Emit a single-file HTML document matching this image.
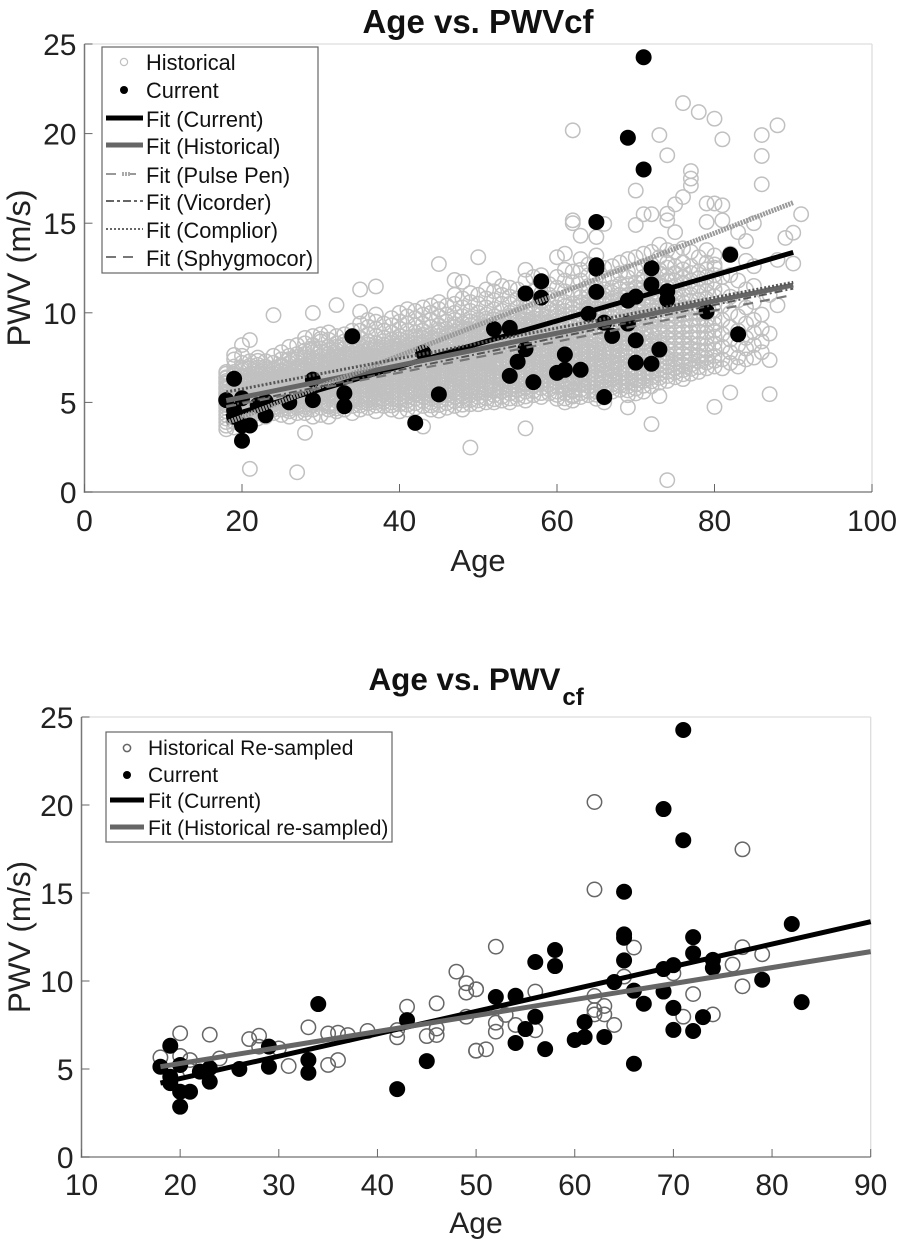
<!DOCTYPE html>
<html lang="en">
<head>
<meta charset="utf-8">
<title>Age vs. PWV charts</title>
<style>
html,body{margin:0;padding:0;background:#fff}
svg{display:block;font-family:"Liberation Sans",Arial,sans-serif;filter:blur(0.35px)}
</style>
</head>
<body>
<svg id="figure" width="902" height="1244" viewBox="0 0 902 1244" xmlns="http://www.w3.org/2000/svg">
  <rect width="902" height="1244" fill="#fff"/>
  <g id="top-chart"></g>
  <g id="bottom-chart"></g>

  <text x="478" y="33" text-anchor="middle" font-size="33" font-weight="bold" fill="#111">Age vs. PWVcf</text>
  <text transform="translate(30,268) rotate(-90)" text-anchor="middle" font-size="32.5" fill="#222">PWV (m/s)</text>
  <text x="478" y="571" text-anchor="middle" font-size="31" fill="#222">Age</text>

  <text x="368.5" y="690" font-size="31.4" font-weight="bold" fill="#111">Age vs. PWV<tspan dx="2" dy="15" font-size="24">cf</tspan></text>
  <text transform="translate(30,937) rotate(-90)" text-anchor="middle" font-size="31.5" fill="#222">PWV (m/s)</text>
  <text x="476" y="1233" text-anchor="middle" font-size="30" fill="#222">Age</text>

  <g font-size="21.8" fill="#111">
    <rect x="102" y="47" width="216" height="226" fill="#fff" stroke="#666" stroke-width="1.2"/>
    <circle cx="124" cy="62" r="3.6" fill="#fff" stroke="#c0c0c0" stroke-width="1.2"/>
    <text x="146" y="70">Historical</text>
    <circle cx="124" cy="90" r="4" fill="#000"/>
    <text x="146" y="98">Current</text>
    <line x1="106" x2="143" y1="118" y2="118" stroke="#000" stroke-width="5"/>
    <text x="146" y="127">Fit (Current)</text>
    <line x1="106" x2="143" y1="145" y2="145" stroke="#666" stroke-width="5"/>
    <text x="146" y="154">Fit (Historical)</text>
    <line x1="106" x2="136" y1="174" y2="174" stroke="#999" stroke-width="2" stroke-dasharray="10 14 6"/>
    <line x1="122" x2="130" y1="174" y2="174" stroke="#aaa" stroke-width="4" stroke-dasharray="2 1"/>
    <text x="146" y="183">Fit (Pulse Pen)</text>
    <line x1="106" x2="143" y1="201" y2="201" stroke="#666" stroke-width="2" stroke-dasharray="8 3 3 3"/>
    <text x="146" y="210">Fit (Vicorder)</text>
    <line x1="106" x2="143" y1="229" y2="229" stroke="#666" stroke-width="2" stroke-dasharray="2 2"/>
    <text x="146" y="238">Fit (Complior)</text>
    <line x1="106" x2="136" y1="257" y2="257" stroke="#777" stroke-width="2" stroke-dasharray="10 7"/>
    <text x="146" y="266">Fit (Sphygmocor)</text>
  </g>

  <g font-size="21" fill="#111">
    <rect x="106" y="732" width="286" height="110" fill="#fff" stroke="#666" stroke-width="1.2"/>
    <circle cx="127" cy="748" r="3.6" fill="#fff" stroke="#666" stroke-width="1.5"/>
    <text x="148" y="755">Historical Re-sampled</text>
    <circle cx="127" cy="775" r="4" fill="#000"/>
    <text x="148" y="782">Current</text>
    <line x1="110" x2="144" y1="800" y2="800" stroke="#000" stroke-width="5"/>
    <text x="148" y="808">Fit (Current)</text>
    <line x1="110" x2="144" y1="827" y2="827" stroke="#666" stroke-width="5"/>
    <text x="148" y="835">Fit (Historical re-sampled)</text>
  </g>
</svg>

<script>
// ---------- shared data ----------
const currentAges = [71,69,71,65,65,65,65,72,72,82,58,58,56,52,54,56,54,55,57,60,61,61,63,64,66,67,66,69,70,69,70,70,72,73,74,74,79,83,34,43,45,42,29,29,33,33,26,19,18,20,19,19,20,21,20,22,23,23];
const currentPwv = [24.26,19.77,18.0,15.07,12.65,12.46,11.17,12.49,11.58,13.24,11.76,10.85,11.08,9.09,9.16,7.97,6.48,7.27,6.13,6.65,6.82,7.67,6.82,9.94,9.45,8.71,5.3,10.68,10.9,9.4,8.47,7.22,7.16,7.95,11.2,10.74,10.07,8.8,8.69,7.78,5.45,3.86,6.27,5.13,5.51,4.79,5.0,6.32,5.13,5.23,4.56,4.2,3.71,3.71,2.86,4.85,5.05,4.28];

// ---------- top chart data ----------
const topXTicks = [0,20,40,60,80,100];
const topYTicks = [0,5,10,15,20,25];
const historicalAges = [18,19,20,21,22,23,24,25,26,27,28,29,30,31,32,33,34,35,36,37,38,39,40,41,42,43,44,45,46,47,48,49,50,51,52,53,54,55,56,57,58,59,60,61,62,63,64,65,66,67,68,69,70,71,72,73,74,75,76,77,78,79,80,81,82,83,84,85,86,87,88,89,90,91];
const historicalPwv = [
[3.5,3.7,3.9,4.1,4.3,4.5,4.7,4.9,5.0,5.2,5.3,5.5,5.6,5.8,5.9,6.1,6.2,6.4,6.6,6.7],
[3.6,3.9,4.2,4.4,4.6,4.8,5.0,5.2,5.3,5.5,5.6,5.8,6.0,6.1,6.3,6.5,6.7,7.0,7.4,7.65],
[3.8,4.0,4.3,4.5,4.7,4.9,5.1,5.2,5.4,5.5,5.7,5.8,6.0,6.2,6.4,6.5,6.8,7.2,7.6,8.2],
[1.29,3.9,4.2,4.4,4.6,4.8,5.0,5.2,5.3,5.5,5.6,5.8,6.0,6.2,6.3,6.6,6.9,7.3,8.48],
[4.1,4.4,4.7,4.9,5.1,5.3,5.5,5.6,5.8,6.0,6.1,6.3,6.5,6.8,7.1,7.5],
[4.2,4.4,4.7,5.0,5.2,5.4,5.6,5.7,5.9,6.1,6.2,6.4,6.7,7.0,7.3],
[4.4,4.6,4.9,5.2,5.4,5.6,5.8,6.0,6.2,6.3,6.6,6.9,7.6,9.87],
[4.3,4.6,4.8,5.1,5.3,5.5,5.7,5.9,6.0,6.2,6.4,6.5,6.8,7.1,7.4,7.8],
[4.2,4.5,4.8,5.0,5.2,5.5,5.7,5.8,6.0,6.2,6.4,6.6,6.9,7.2,7.6,8.1],
[1.1,4.4,4.7,5.0,5.2,5.4,5.6,5.9,6.1,6.3,6.5,6.7,7.0,7.4,7.7,8.2],
[3.3,4.4,4.6,4.9,5.2,5.4,5.7,5.9,6.0,6.3,6.6,6.8,7.1,7.5,7.9,8.3,8.6],
[4.2,4.6,5.0,5.3,5.5,5.7,6.0,6.2,6.4,6.6,6.9,7.2,7.5,7.8,8.2,8.7,9.99],
[4.3,4.7,5.1,5.4,5.6,5.9,6.1,6.3,6.5,6.7,7.0,7.3,7.6,8.0,8.4,8.8],
[4.2,4.6,4.9,5.2,5.5,5.8,6.0,6.2,6.5,6.8,7.1,7.4,7.7,8.1,8.5,8.9],
[4.5,4.8,5.1,5.4,5.7,6.0,6.2,6.4,6.7,7.0,7.2,7.5,7.9,8.3,8.7,10.43],
[4.6,5.0,5.3,5.6,5.8,6.1,6.3,6.6,6.9,7.1,7.4,7.7,8.0,8.4,8.8],
[4.4,4.8,5.2,5.5,5.8,6.0,6.3,6.5,6.8,7.0,7.3,7.6,7.9,8.2,8.6,9.0],
[4.6,5.0,5.3,5.6,5.9,6.2,6.4,6.7,7.0,7.3,7.5,7.8,8.2,8.6,9.0,9.4,10.06,11.3],
[4.7,5.1,5.4,5.8,6.1,6.3,6.6,6.9,7.1,7.4,7.7,8.0,8.4,8.8,9.2,9.6],
[4.5,5.0,5.3,5.7,6.0,6.2,6.5,6.8,7.1,7.3,7.6,8.0,8.3,8.7,9.1,9.5,9.9,11.47],
[4.8,5.2,5.6,5.9,6.2,6.5,6.8,7.0,7.3,7.6,7.9,8.2,8.6,9.0,9.4],
[4.6,5.0,5.4,5.8,6.1,6.4,6.7,7.0,7.2,7.5,7.8,8.1,8.5,8.9,9.3,9.7],
[4.5,4.9,5.3,5.7,6.0,6.3,6.6,6.9,7.2,7.4,7.7,8.0,8.3,8.7,9.1,9.5,10.0],
[4.6,5.1,5.5,5.9,6.2,6.5,6.8,7.1,7.4,7.6,7.9,8.2,8.6,9.0,9.4,9.8,10.2],
[4.7,5.2,5.6,6.0,6.3,6.6,6.9,7.2,7.5,7.8,8.1,8.5,8.9,9.3,9.7,10.1],
[3.65,4.8,5.3,5.7,6.0,6.3,6.7,7.0,7.3,7.6,7.9,8.2,8.6,9.0,9.4,9.9,10.3],
[4.6,5.0,5.4,5.8,6.1,6.5,6.8,7.1,7.4,7.7,8.0,8.4,8.8,9.2,9.6,10.0,10.4],
[4.54,5.1,5.5,5.9,6.2,6.5,6.9,7.2,7.5,7.8,8.1,8.5,8.9,9.3,9.8,10.2,10.6,12.72],
[4.7,5.2,5.6,6.0,6.4,6.7,7.0,7.3,7.6,7.9,8.3,8.7,9.1,9.5,9.9,10.4],
[4.8,5.3,5.7,6.1,6.4,6.7,7.1,7.4,7.7,8.0,8.4,8.8,9.2,9.6,10.0,10.5,11.0,11.83],
[4.6,5.1,5.5,5.9,6.3,6.6,7.0,7.3,7.6,7.9,8.2,8.6,9.0,9.4,9.8,10.3,10.8,11.73],
[2.48,4.9,5.4,5.8,6.1,6.4,6.8,7.1,7.4,7.8,8.1,8.5,8.9,9.3,9.7,10.1,10.6,11.1],
[4.9,5.3,5.7,6.0,6.4,6.7,7.1,7.4,7.7,8.1,8.4,8.8,9.2,9.6,10.0,10.5,11.0,13.1],
[5.0,5.5,5.9,6.3,6.6,7.0,7.3,7.6,7.9,8.3,8.7,9.1,9.5,9.9,10.3,10.8,11.3],
[5.0,5.4,5.8,6.2,6.5,6.9,7.2,7.6,7.9,8.2,8.6,9.0,9.4,9.8,10.2,10.7,11.2,11.9],
[5.1,5.6,6.0,6.4,6.7,7.1,7.4,7.8,8.1,8.5,8.9,9.3,9.7,10.1,10.5,11.0,11.5],
[5.0,5.5,5.9,6.3,6.6,7.0,7.3,7.7,8.0,8.4,8.8,9.2,9.6,10.0,10.5,10.9,11.4],
[5.2,5.7,6.1,6.5,6.9,7.2,7.6,7.9,8.3,8.7,9.1,9.5,9.9,10.3,10.8,11.3],
[3.55,5.1,5.6,6.0,6.4,6.8,7.1,7.5,7.8,8.2,8.6,9.0,9.4,9.8,10.3,10.8,11.8,12.4],
[5.4,5.9,6.3,6.7,7.0,7.4,7.7,8.1,8.5,8.9,9.3,9.7,10.2,10.7,11.2,12.0],
[5.3,5.8,6.2,6.6,6.9,7.3,7.7,8.0,8.4,8.8,9.2,9.7,10.1,10.6,11.1,11.7,12.1],
[5.5,6.0,6.4,6.8,7.2,7.6,7.9,8.3,8.7,9.1,9.5,10.0,10.5,11.0,11.6],
[5.2,5.6,6.1,6.5,6.9,7.3,7.7,8.1,8.5,8.9,9.3,9.8,10.3,10.8,11.4,12.0,13.1],
[5.0,5.5,5.9,6.3,6.7,7.1,7.5,7.9,8.3,8.7,9.1,9.6,10.1,10.6,11.2,11.8,12.4,13.3],
[5.1,5.4,5.7,6.1,6.5,6.9,7.3,7.7,8.1,8.6,9.0,9.5,10.0,10.5,11.1,11.7,12.3,15.0,15.16,20.18],
[5.3,5.7,6.2,6.6,7.0,7.4,7.8,8.2,8.6,9.1,9.6,10.1,10.6,11.2,11.8,12.4,13.0,14.3],
[5.4,5.9,6.3,6.7,7.1,7.5,7.9,8.3,8.8,9.3,9.8,10.3,10.9,11.5,12.1,12.7],
[5.2,5.6,6.1,6.5,7.0,7.4,7.8,8.2,8.7,9.2,9.7,10.2,10.8,11.4,12.0,12.6,13.2,14.23],
[5.0,5.5,5.9,6.4,6.8,7.3,7.7,8.2,8.6,9.1,9.6,10.1,10.7,11.3,11.9,12.5,14.96],
[5.6,6.0,6.5,6.9,7.3,7.8,8.2,8.7,9.2,9.7,10.2,10.8,11.4,12.0,12.6],
[5.7,6.1,6.6,7.0,7.4,7.9,8.3,8.8,9.3,9.8,10.4,11.0,11.6,12.2,12.8],
[4.72,5.4,5.9,6.3,6.8,7.3,7.8,8.3,8.8,9.3,9.8,10.4,11.0,11.6,12.3,13.0],
[5.5,6.0,6.4,6.9,7.4,7.9,8.4,8.9,9.4,9.9,10.5,11.1,11.7,12.4,13.1,14.9,16.82],
[5.6,6.2,6.6,7.1,7.6,8.1,8.6,9.1,9.6,10.2,10.8,11.4,12.0,12.6,13.3,15.5],
[3.79,5.9,6.4,6.9,7.4,7.9,8.4,8.9,9.5,10.1,10.7,11.3,12.0,12.7,13.4,15.5],
[5.35,6.1,6.6,7.1,7.6,8.1,8.6,9.2,9.8,10.4,11.0,11.7,12.4,13.1,13.8,19.92],
[0.66,6.2,6.7,7.2,7.7,8.3,8.9,9.5,10.1,10.7,11.4,12.1,12.8,13.5,15.16,15.53,18.79],
[6.4,6.9,7.4,8.0,8.6,9.2,9.8,10.4,11.1,11.8,12.6,13.4,14.5,16.05],
[6.3,6.8,7.4,8.0,8.6,9.2,9.9,10.6,11.3,12.0,12.8,13.6,16.46,21.7],
[6.6,7.1,7.7,8.3,8.9,9.6,10.3,11.0,11.8,12.6,13.4,17.1,17.49,17.91],
[6.7,7.3,7.9,8.6,9.3,10.0,10.7,11.5,12.3,13.1,21.2],
[6.9,7.5,8.2,8.9,9.6,10.4,11.2,12.0,12.8,13.5,15.07,16.1],
[4.75,7.0,7.6,8.3,9.0,9.7,10.5,11.3,12.1,12.7,13.2,16.1,20.83],
[6.9,7.4,8.1,8.8,9.6,10.4,11.2,12.0,15.16,16.0,19.68],
[5.55,7.2,7.8,8.5,9.2,10.0,10.9,12.1,13.3],
[7.0,7.5,8.2,9.0,9.8,10.7,11.8,14.5],
[7.4,8.0,8.6,9.4,10.3,11.3,12.9,14.0],
[7.5,8.2,8.9,9.6,10.6,11.5,12.6,15.0],
[7.8,8.4,9.1,9.9,17.17,18.75,19.92],
[5.46,7.36,8.84,11.0],
[10.42,12.95,20.46],
[14.18],
[12.75,14.47],
[15.5]
];
// second pass over the dense core of the cloud (read by eye, same age rows as above where present)
const historicalCoreAges = [18,19,20,21,22,23,24,25,26,27,28,29,30,31,32,33,34,35,36,37,38,39,40,41,42,43,44,45,46,47,48,49,50,51,52,53,54,55,56,57,58,59,60,61,62,63,64,65,66,67,68,69,70,71,72,73,74,75,76,77,78,79,80];
const historicalCorePwv = [
[4.85,5.15,5.45,5.75,6.05,6.35],
[4.35,5.12,5.47,5.93,6.24,6.58],
[4.62,5.07,5.33,5.62,6.13,6.44,6.93],
[4.55,5.09,5.41,5.72,6.11,6.47,7.05],
[4.53,5.02,5.37,5.68,6.21,6.63,6.95,7.32],
[4.83,5.11,5.49,5.82,6.33,6.58,6.86],
[4.72,5.06,5.47,5.91,6.12,6.47,6.78,7.21],
[4.94,5.22,5.63,5.84,6.31,6.71,7.02],
[4.64,5.33,5.61,5.93,6.29,6.52,6.77,7.42],
[4.83,5.31,5.53,5.77,6.22,6.41,6.87,7.23,7.53],
[4.75,5.07,5.58,5.82,6.17,6.46,6.93,7.31,7.71],
[4.85,5.13,5.41,5.86,6.11,6.52,6.77,7.09,7.37,8.03],
[4.96,5.27,5.77,6.02,6.41,6.62,6.87,7.16,7.83,8.55],
[4.78,5.37,5.68,5.93,6.34,6.64,6.93,7.26,7.56,7.92],
[4.66,5.26,5.83,6.11,6.55,6.83,7.11,7.37,7.72,8.11],
[4.83,5.45,5.72,5.96,6.45,6.75,7.02,7.28,7.56,8.22],
[5.07,5.36,5.64,5.91,6.17,6.63,6.91,7.16,7.47,7.74,8.43],
[4.83,5.17,5.74,6.06,6.33,6.56,6.85,7.16,7.42,7.67,8.01],
[4.95,5.26,5.63,5.96,6.22,6.47,6.78,7.02,7.26,7.57,7.86,8.23],
[4.82,5.17,5.52,5.85,6.12,6.38,6.67,6.93,7.21,7.47,7.82,8.13],
[5.03,5.41,5.75,6.07,6.34,6.63,6.91,7.16,7.46,7.73,8.06,8.42],
[4.83,5.21,5.62,5.94,6.26,6.54,6.83,7.11,7.37,7.65,7.97,8.31],
[5.12,5.47,5.86,6.16,6.47,6.75,7.06,7.31,7.57,7.85,8.16,8.52],
[4.87,5.33,5.71,6.07,6.36,6.63,6.95,7.23,7.52,7.77,8.07,8.41],
[4.95,5.42,5.82,6.16,6.47,6.77,7.06,7.35,7.63,7.93,8.28,8.66],
[5.07,5.51,5.86,6.17,6.52,6.84,7.15,7.44,7.73,8.03,8.37,8.77],
[4.83,5.22,5.62,5.97,6.32,6.63,6.96,7.26,7.55,7.86,8.21,8.57],
[4.85,5.31,5.72,6.07,6.37,6.72,7.05,7.36,7.65,7.96,8.31,8.71,9.08],
[4.96,5.41,5.83,6.21,6.56,6.87,7.16,7.47,7.76,8.12,8.48,8.86],
[5.07,5.52,5.91,6.26,6.57,6.93,7.22,7.52,7.86,8.21,8.57,8.96,9.37],
[4.87,5.32,5.71,6.12,6.47,6.81,7.16,7.47,7.78,8.06,8.42,8.77,9.17],
[5.13,5.62,5.95,6.27,6.62,6.95,7.27,7.58,7.92,8.27,8.66,9.08,9.52],
[5.11,5.52,5.86,6.21,6.56,6.87,7.23,7.56,7.87,8.23,8.58,9.03,9.42],
[5.23,5.72,6.11,6.46,6.82,7.16,7.45,7.77,8.12,8.48,8.87,9.27,9.68],
[5.17,5.63,6.02,6.36,6.71,7.06,7.36,7.72,8.07,8.43,8.81,9.21,9.63],
[5.32,5.82,6.22,6.57,6.91,7.26,7.61,7.95,8.31,8.69,9.08,9.51],
[5.22,5.71,6.13,6.47,6.81,7.17,7.52,7.86,8.21,8.58,8.98,9.42,9.83],
[5.43,5.92,6.32,6.71,7.06,7.41,7.76,8.12,8.51,8.89,9.31,9.74],
[5.33,5.82,6.23,6.62,6.97,7.32,7.67,8.01,8.42,8.81,9.22,9.63,10.06],
[5.63,6.12,6.52,6.87,7.22,7.57,7.92,8.31,8.71,9.12,9.52,9.96],
[5.52,6.02,6.43,6.78,7.15,7.52,7.88,8.22,8.63,9.03,9.47,9.92],
[5.73,6.23,6.62,6.98,7.38,7.77,8.12,8.52,8.93,9.32,9.77,10.23],
[5.42,5.87,6.33,6.72,7.12,7.52,7.92,8.32,8.72,9.13,9.57,10.06],
[5.22,5.72,6.16,6.53,6.92,7.32,7.72,8.12,8.52,8.93,9.38,9.87,10.36],
[5.33,5.62,6.02,6.38,6.77,7.16,7.56,7.96,8.36,8.77,9.22,9.73,10.26],
[5.52,5.96,6.42,6.82,7.22,7.62,8.02,8.42,8.87,9.33,9.83,10.37,10.87],
[5.62,6.13,6.52,6.93,7.32,7.72,8.12,8.57,9.03,9.52,10.06,10.62,11.17],
[5.43,5.83,6.32,6.73,7.17,7.62,8.02,8.47,8.96,9.47,9.96,10.52,11.12],
[5.27,5.72,6.17,6.62,7.06,7.52,7.97,8.42,8.87,9.37,9.87,10.42,10.97],
[5.83,6.27,6.72,7.17,7.57,8.02,8.47,8.96,9.43,9.97,10.52,11.12],
[5.92,6.37,6.83,7.22,7.66,8.12,8.57,9.07,9.57,10.12,10.72,11.32],
[5.67,6.13,6.57,7.07,7.57,8.07,8.57,9.07,9.57,10.13,10.72,11.32,11.97],
[5.77,6.23,6.67,7.17,7.67,8.17,8.67,9.17,9.67,10.22,10.82,11.42],
[5.93,6.42,6.87,7.37,7.87,8.37,8.87,9.37,9.92,10.52,11.12,11.72],
[6.17,6.67,7.17,7.67,8.17,8.77,9.27,9.87,10.42,11.07,11.67,12.32],
[6.37,6.87,7.37,7.87,8.37,8.97,9.62,10.27,10.87,11.57,12.22],
[6.47,6.97,7.47,8.02,8.62,9.22,9.82,10.47,11.12,11.82,12.52],
[6.67,7.17,7.72,8.32,8.92,9.52,10.12,10.82,11.52,12.22],
[6.57,7.12,7.72,8.32,8.92,9.57,10.27,10.97,11.67,12.42],
[6.87,7.42,8.02,8.62,9.27,9.97,10.67,11.42,12.22],
[6.97,7.62,8.27,8.97,9.67,10.37,11.12,11.92],
[7.22,7.87,8.57,9.27,9.97,10.77,11.62,12.42],
[7.32,7.97,8.67,9.37,10.12,10.92,11.72,12.52]
];
const fitAges = [18,90];
const fitCurrent = [4.2,13.37];
const fitHistorical = [5.1,11.55];
const fitPulsePen = [3.85,16.15];
const fitVicorder = [4.8,11.35];
const fitComplior = [5.58,11.7];
const fitSphygmocor = [4.75,11.0];

// ---------- bottom chart data ----------
const bottomXTicks = [10,20,30,40,50,60,70,80,90];
const bottomYTicks = [0,5,10,15,20,25];
const resampledAges = [62,62,77,52,66,77,79,76,65,70,77,72,62,56,50,63,62,62,63,64,71,74,53,52,52,54,56,51,50,48,49,49,50,49,43,46,42,42,45,46,46,39,37,36,35,35,36,33,31,30,28,27,28,24,23,21,20,20,18,21,50];
const resampledPwv = [20.17,15.2,17.48,11.95,11.9,11.92,11.52,10.93,10.25,10.44,9.7,9.26,9.15,9.4,9.53,8.58,8.35,8.1,8.1,7.5,7.97,8.1,8.07,7.63,7.12,7.5,7.2,6.12,6.04,10.53,9.87,9.34,9.53,7.97,8.54,8.73,7.21,6.8,6.87,7.3,6.93,7.16,6.93,7.06,7.02,5.23,5.51,7.37,5.17,6.17,6.89,6.7,6.27,5.6,6.95,5.51,7.03,5.74,5.66,4.9,6.04];
const bottomFitAges = [18,90];
const bottomFitCurrent = [4.2,13.37];
const bottomFitResampled = [5.13,11.67];

// ---------- helpers ----------
const NS = 'http://www.w3.org/2000/svg';
function scale(d0, d1, r0, r1) { return v => r0 + (v - d0) * (r1 - r0) / (d1 - d0); }
function mk(parent, tag, attrs) {
  const el = document.createElementNS(NS, tag);
  for (const k in attrs) el.setAttribute(k, attrs[k]);
  parent.appendChild(el);
  return el;
}

function drawFrame(g, x, y, xTicks, yTicks, fs, xLabelY) {
  const L = x(xTicks[0]), R = x(xTicks[xTicks.length - 1]);
  const B = y(yTicks[0]), T = y(yTicks[yTicks.length - 1]);
  const top = mk(g, 'line', {x1: L, x2: R, y1: T, y2: T, stroke: '#ddd', 'stroke-width': 1.3});
  
  
  const right = mk(g, 'line', {x1: R, x2: R, y1: T, y2: B, stroke: '#ddd', 'stroke-width': 1.3});
  
  
  const xAxis = mk(g, 'line', {x1: L - 0.7, x2: R, y1: B, y2: B, stroke: '#888', 'stroke-width': 1.5});
  
  
  const yAxis = mk(g, 'line', {x1: L, x2: L, y1: T, y2: B + 0.7, stroke: '#777', 'stroke-width': 1.5});
  
  
  xTicks.forEach(t => {
    const tk = mk(g, 'line', {x1: x(t), x2: x(t), y1: B, y2: B - 8, stroke: '#666', 'stroke-width': 1});
    
    
    const lb = mk(g, 'text', {x: x(t), y: xLabelY, 'text-anchor': 'middle', 'font-size': fs, fill: '#222'});
    
    
    lb.textContent = t;
  });
  yTicks.forEach(t => {
    const tk = mk(g, 'line', {x1: L, x2: L + 8, y1: y(t), y2: y(t), stroke: '#666', 'stroke-width': 1});
    
    
    const lb = mk(g, 'text', {x: L - 8, y: y(t) + 11, 'text-anchor': 'end', 'font-size': fs, fill: '#222'});
    
    
    lb.textContent = t;
  });
}

function drawOpen(g, cx, cy, r, stroke, sw) {
  const c = mk(g, 'circle', {cx: cx, cy: cy, r: r, fill: 'none', stroke: stroke, 'stroke-width': sw});
  
  
}
function drawDots(g, x, y, r) {
  currentAges.forEach((a, i) => {
    const c = mk(g, 'circle', {cx: x(a), cy: y(currentPwv[i]), r: r, fill: '#000'});
    
    
  });
}
function drawFit(g, x, y, ages, vals, stroke, sw, dash, name) {
  const l = mk(g, 'line', {x1: x(ages[0]), x2: x(ages[1]), y1: y(vals[0]), y2: y(vals[1]), stroke: stroke, 'stroke-width': sw});
  if (dash) l.setAttribute('stroke-dasharray', dash);
  
  
}

// ---------- top chart ----------
(function () {
  const g = document.getElementById('top-chart');
  const x = scale(0, 100, 84.5, 872);
  const y = scale(0, 25, 492, 44);
  drawFrame(g, x, y, topXTicks, topYTicks, 30, 531);
  historicalAges.forEach((a, i) => {
    historicalPwv[i].forEach(v => drawOpen(g, x(a), y(v), 7.2, '#c0c0c0', 1.5));
  });
  historicalCoreAges.forEach((a, i) => {
    historicalCorePwv[i].forEach(v => drawOpen(g, x(a), y(v), 7.2, '#c0c0c0', 1.5));
  });
  drawDots(g, x, y, 8);
  drawFit(g, x, y, fitAges, fitCurrent, '#000', 5, null, 'fit-current');
  drawFit(g, x, y, fitAges, fitHistorical, '#666', 5, null, 'fit-historical');
  drawFit(g, x, y, fitAges, fitPulsePen, '#999', 5, '2 1', 'fit-pulse-pen');
  drawFit(g, x, y, fitAges, fitVicorder, '#555', 2, '8 3 2 3', 'fit-vicorder');
  drawFit(g, x, y, fitAges, fitComplior, '#555', 3, '2 2', 'fit-complior');
  drawFit(g, x, y, fitAges, fitSphygmocor, '#777', 2.2, '10 7', 'fit-sphygmocor');
})();

// ---------- bottom chart ----------
(function () {
  const g = document.getElementById('bottom-chart');
  const x = scale(10, 90, 81.5, 870.7);
  const y = scale(0, 25, 1157, 717);
  drawFrame(g, x, y, bottomXTicks, bottomYTicks, 30, 1195);
  resampledAges.forEach((a, i) => drawOpen(g, x(a), y(resampledPwv[i]), 7.2, '#666', 1.5));
  drawDots(g, x, y, 8);
  drawFit(g, x, y, bottomFitAges, bottomFitCurrent, '#000', 5, null, 'fit-current');
  drawFit(g, x, y, bottomFitAges, bottomFitResampled, '#666', 5, null, 'fit-historical-resampled');
})();
</script>
</body>
</html>
